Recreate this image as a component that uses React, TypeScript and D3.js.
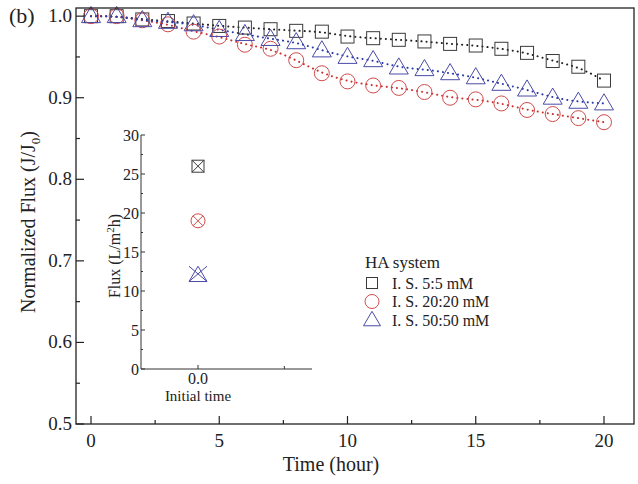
import React from "react";
import * as d3 from "d3";

const times = [0, 1, 2, 3, 4, 5, 6, 7, 8, 9, 10, 11, 12, 13, 14, 15, 16, 17, 18, 19, 20];
const is5 = [1.0, 1.0, 0.996, 0.994, 0.991, 0.988, 0.986, 0.984, 0.982, 0.981, 0.975, 0.973, 0.971, 0.969, 0.966, 0.964, 0.96, 0.955, 0.945, 0.938, 0.921];
const is20 = [1.0, 1.0, 0.995, 0.99, 0.981, 0.975, 0.965, 0.96, 0.946, 0.93, 0.92, 0.915, 0.912, 0.907, 0.9, 0.898, 0.893, 0.885, 0.88, 0.875, 0.87];
const is50 = [1.0, 1.0, 0.995, 0.993, 0.99, 0.983, 0.978, 0.972, 0.968, 0.958, 0.95, 0.946, 0.937, 0.935, 0.93, 0.925, 0.917, 0.91, 0.9, 0.895, 0.893];
const seriesNames = ["I. S. 5:5 mM", "I. S. 20:20 mM", "I. S. 50:50 mM"];
const initialFlux = [26, 19, 12];
const xTicks = [0, 5, 10, 15, 20];
const yTicks = [0.5, 0.6, 0.7, 0.8, 0.9, 1.0];
const insetYTicks = [0, 5, 10, 15, 20, 25, 30];

const colors = ["#3a3a3a", "#d04a4a", "#4a4aa8"];
const lineColors = ["#222222", "#cc3030", "#2a3aa8"];
const font = "'Liberation Serif', 'Times New Roman', serif";

function Marker({ kind, cx, cy, s, color, cross }: any) {
  if (kind === 0) {
    return (
      <g stroke={color} fill="none" strokeWidth={1}>
        <rect x={cx - s / 2} y={cy - s / 2} width={s} height={s} />
        {cross && <path d={`M${cx - s / 2},${cy - s / 2}L${cx + s / 2},${cy + s / 2}M${cx + s / 2},${cy - s / 2}L${cx - s / 2},${cy + s / 2}`} />}
      </g>
    );
  }
  if (kind === 1) {
    const r = s / 2;
    const k = r * 0.707;
    return (
      <g stroke={color} fill="none" strokeWidth={1}>
        <circle cx={cx} cy={cy} r={r} />
        {cross && <path d={`M${cx - k},${cy - k}L${cx + k},${cy + k}M${cx + k},${cy - k}L${cx - k},${cy + k}`} />}
      </g>
    );
  }
  const w = s;
  const h = s * 0.85;
  return (
    <g stroke={color} fill="none" strokeWidth={1}>
      <path d={`M${cx},${cy - h * 0.6}L${cx + w / 2},${cy + h * 0.4}L${cx - w / 2},${cy + h * 0.4}Z`} />
      {cross && <path d={`M${cx - w / 2},${cy - h * 0.6}L${cx + w / 2},${cy + h * 0.4}M${cx + w / 2},${cy - h * 0.6}L${cx - w / 2},${cy + h * 0.4}`} />}
    </g>
  );
}

export default function App() {
  const W = 638, H = 484;
  const L = 76, R = 634, T = 8, B = 424;
  const x = d3.scaleLinear().domain([-0.585, 21.17]).range([L, R]);
  const y = d3.scaleLinear().domain([0.5, 1.01]).range([B, T]);
  const series = [is5, is20, is50];
  const line = d3.line<[number, number]>().x(d => x(d[0])).y(d => y(d[1])).curve(d3.curveBasis);

  // inset
  const iL = 141, iR = 312, iT = 135, iB = 369;
  const ix = d3.scaleLinear().domain([-0.33, 0.66]).range([iL, iR]);
  const iy = d3.scaleLinear().domain([0, 30]).range([iB, iT]);

  const xMinor = d3.range(0, 21, 2.5);
  const yMinor = d3.range(0.5, 1.001, 0.05);
  const iyMinor = d3.range(0, 30.01, 2.5);
  const markerSize = [13, 15, 19];

  return (
    <svg width={W} height={H} style={{ position: "absolute", left: 0, top: 0, background: "#fff" }} fontFamily={font}>
      <rect x={0} y={0} width={W} height={H} fill="#fff" />
      {series.map((s, i) => (
        <path key={"l" + i} d={line(times.map((t, j) => [t, s[j]]) as any) || ""} fill="none" stroke={lineColors[i]} strokeWidth={2} strokeDasharray="0.1 5" strokeLinecap="round" />
      ))}
      {series.map((s, i) =>
        times.map((t, j) => (
          <Marker key={`m${i}-${j}`} kind={i} cx={x(t)} cy={y(s[j])} s={markerSize[i]} color={colors[i]} />
        ))
      )}
      <rect x={L} y={T} width={R - L} height={B - T} fill="none" stroke="#222" strokeWidth={1.3} />
      {xMinor.map(v => {
        const major = v % 5 === 0;
        return <line key={"xt" + v} x1={x(v)} x2={x(v)} y1={B} y2={B - (major ? 8 : 4)} stroke="#222" strokeWidth={1.2} />;
      })}
      {xTicks.map(v => (
        <text key={"xl" + v} x={x(v)} y={B + 23} textAnchor="middle" fontSize={19} fill="#222">{v}</text>
      ))}
      {yMinor.map((v, k) => {
        const major = k % 2 === 0;
        return <line key={"yt" + k} x1={L} x2={L + (major ? 8 : 4)} y1={y(v)} y2={y(v)} stroke="#222" strokeWidth={1.2} />;
      })}
      {yTicks.map(v => (
        <text key={"yl" + v} x={L - 4} y={y(v) + 6} textAnchor="end" fontSize={19} fill="#222">{v.toFixed(1)}</text>
      ))}
      <text x={9} y={y(1.0) + 7} fontSize={22} fill="#222">(b)</text>
      <text x={(L + R) / 2 - 24} y={471} textAnchor="middle" fontSize={20} fill="#222">Time (hour)</text>
      <text transform={`translate(35,${(T + B) / 2 + 6}) rotate(-90)`} textAnchor="middle" fontSize={20} fill="#222">
        Normalized Flux (J/J<tspan fontSize={13} dy={5}>0</tspan><tspan dy={-5}>)</tspan>
      </text>

      {/* inset */}
      <line x1={iL} x2={iL} y1={iT} y2={iB} stroke="#333" strokeWidth={1} />
      <line x1={iL} x2={iR} y1={iB} y2={iB} stroke="#333" strokeWidth={1} />
      {iyMinor.map((v, k) => (
        <line key={"iyt" + k} x1={iL} x2={iL + (k % 2 === 0 ? 4 : 2)} y1={iy(v)} y2={iy(v)} stroke="#333" strokeWidth={1} />
      ))}
      {insetYTicks.map(v => (
        <text key={"iyl" + v} x={iL - 2} y={iy(v) + 6} textAnchor="end" fontSize={16} fill="#222">{v}</text>
      ))}
      <line x1={ix(0)} x2={ix(0)} y1={iB} y2={iB - 4} stroke="#333" />
      <line x1={ix(0.5)} x2={ix(0.5)} y1={iB} y2={iB - 3} stroke="#333" />
      <text x={ix(0)} y={iB + 15} textAnchor="middle" fontSize={16} fill="#222">0.0</text>
      <text x={ix(0)} y={iB + 32} textAnchor="middle" fontSize={15} fill="#222">Initial time</text>
      <text transform={`translate(120,${(iT + iB) / 2 + 4}) rotate(-90)`} textAnchor="middle" fontSize={16} fill="#222">
        Flux (L/m<tspan fontSize={11} dy={-6}>2</tspan><tspan dy={6}>h)</tspan>
      </text>
      {initialFlux.map((v, i) => (
        <Marker key={"im" + i} kind={i} cx={ix(0)} cy={iy(v)} s={[12, 14, 18][i]} color={colors[i]} cross />
      ))}

      {/* legend */}
      <text x={365} y={268} fontSize={17} fill="#222">HA system</text>
      {seriesNames.map((n, i) => (
        <g key={"lg" + i}>
          <Marker kind={i} cx={372} cy={283 + i * 18.5} s={[11, 14, 17][i]} color={colors[i]} />
          <text x={392} y={288.5 + i * 18.5} fontSize={16} fill="#222">{n}</text>
        </g>
      ))}
    </svg>
  );
}
